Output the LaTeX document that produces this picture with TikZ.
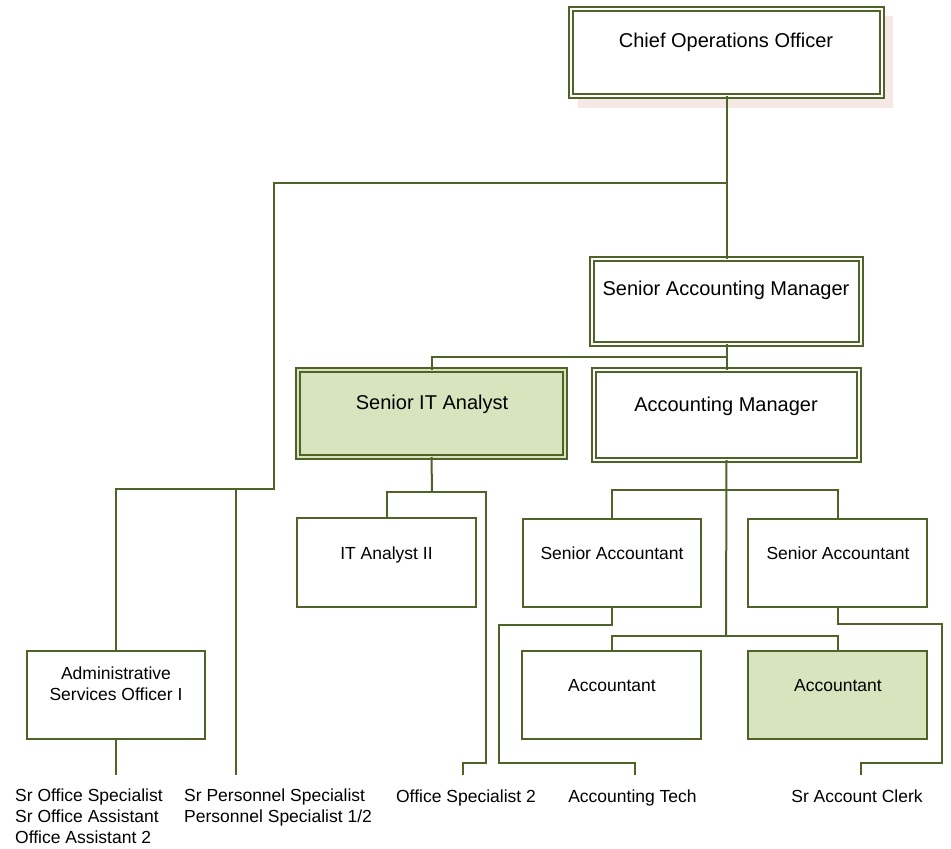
\documentclass[tikz,border=0pt]{standalone}
\usepackage{fontspec}
\setmainfont{Liberation Sans}
\definecolor{lineol}{HTML}{4F6228}
\definecolor{boxgreen}{HTML}{D7E4BD}
\definecolor{shadowpink}{HTML}{F5E8E5}
\tikzset{
  dbox/.style={draw=lineol, line width=1.6pt, double=white, double distance=2.4pt, fill=white, inner sep=0pt, outer sep=0pt},
  dboxg/.style={dbox, double=boxgreen, fill=boxgreen},
  sbox/.style={draw=lineol, line width=2pt, fill=white, inner sep=0pt, outer sep=0pt},
  sboxg/.style={sbox, fill=boxgreen},
  conn/.style={draw=lineol, line width=2pt},
  bigtxt/.style={font=\fontsize{20}{24}\selectfont, inner sep=0pt, anchor=base},
  smalltxt/.style={font=\fontsize{17.5}{20.5}\selectfont, inner sep=0pt, anchor=base},
  bottxt/.style={font=\fontsize{17.5}{21}\selectfont, inner sep=0pt, anchor=base west, align=left},
}
\begin{document}
\begin{tikzpicture}[x=1pt,y=-1pt]
\useasboundingbox (0,0) rectangle (951,849);
% shadow
\fill[shadowpink] (578,16) rectangle (893,108);
% boxes
\node[dbox, minimum width=311pt, minimum height=87pt] (coo) at (726.5,52.5) {};
\node[dbox, minimum width=269pt, minimum height=85pt] (sam) at (726.5,301.5) {};
\node[dboxg, minimum width=267pt, minimum height=87pt] (sia) at (431.5,413.5) {};
\node[dbox, minimum width=265pt, minimum height=90pt] (am) at (726.5,415) {};
\node[sbox, minimum width=179pt, minimum height=89pt] (ita) at (386.5,562.5) {};
\node[sbox, minimum width=178pt, minimum height=88pt] (sa1) at (612,563) {};
\node[sbox, minimum width=179pt, minimum height=88pt] (sa2) at (837.5,563) {};
\node[sbox, minimum width=179pt, minimum height=88pt] (acc1) at (611.5,695) {};
\node[sboxg, minimum width=179pt, minimum height=88pt] (acc2) at (837.5,695) {};
\node[sbox, minimum width=178pt, minimum height=88pt] (adso) at (116,695) {};
% box texts
\node[bigtxt] (cooT) at (726,47) {Chief Operations Officer};
\node[bigtxt] (samT) at (726,295) {Senior Accounting Manager};
\node[bigtxt] (amT) at (726,411) {Accounting Manager};
\node[bigtxt] (siaT) at (432,409) {Senior IT Analyst};
\node[smalltxt] (itaT) at (386.5,559) {IT Analyst II};
\node[smalltxt] (sa1T) at (612,559) {Senior Accountant};
\node[smalltxt] (sa2T) at (838,559) {Senior Accountant};
\node[smalltxt] (acc1T) at (612,691) {Accountant};
\node[smalltxt] (acc2T) at (838,691) {Accountant};
\node[smalltxt, align=center] (adsoT) at (116,700) {Administrative\\Services Officer I};
% bottom labels (base = last line)
\node[bottxt] (l1) at (15,843) {Sr Office Specialist\\Sr Office Assistant\\Office Assistant 2};
\node[bottxt] (l2) at (184,822) {Sr Personnel Specialist\\Personnel Specialist 1/2};
\node[smalltxt] (l3) at (466,802) {Office Specialist 2};
\node[smalltxt] (l4) at (632.5,802) {Accounting Tech};
\node[smalltxt] (l5) at (857,802) {Sr Account Clerk};
% coordinates
\coordinate (j1) at (726,183);
\coordinate (j2) at (274,489);
\coordinate (e1) at (236,775);
\coordinate (e0) at (116,775);
\coordinate (j3) at (726,357);
\coordinate (j4) at (432,492);
\coordinate (e2) at (463,775);
\coordinate (j5) at (726,490);
\coordinate (j6) at (726,636);
\coordinate (e3) at (635,775);
\coordinate (e4) at (861,775);
% connectors
\draw[conn] (coo.south) -- (sam.north);
\draw[conn] (j1) -| (j2) -| (adso.north);
\draw[conn] (e1 |- j2) -- (e1);
\draw[conn] (adso.south) -- (e0);
\draw[conn] (sam.south) -- (am.north);
\draw[conn] (j3) -| (sia.north);
\draw[conn] (sia.south) -- (j4);
\draw[conn] (ita.north) |- (486,492) -- (486,763) -| (e2);
\draw[conn] (am.south) -- (j6);
\draw[conn] (sa1.north) |- (j5) -| (sa2.north);
\draw[conn] (acc1.north) |- (j6) -| (acc2.north);
\draw[conn] (sa1.south) |- (499,625) -- (499,763) -| (e3);
\draw[conn] (sa2.south) |- (942,624) -- (942,763) -| (e4);
\end{tikzpicture}
\end{document}
